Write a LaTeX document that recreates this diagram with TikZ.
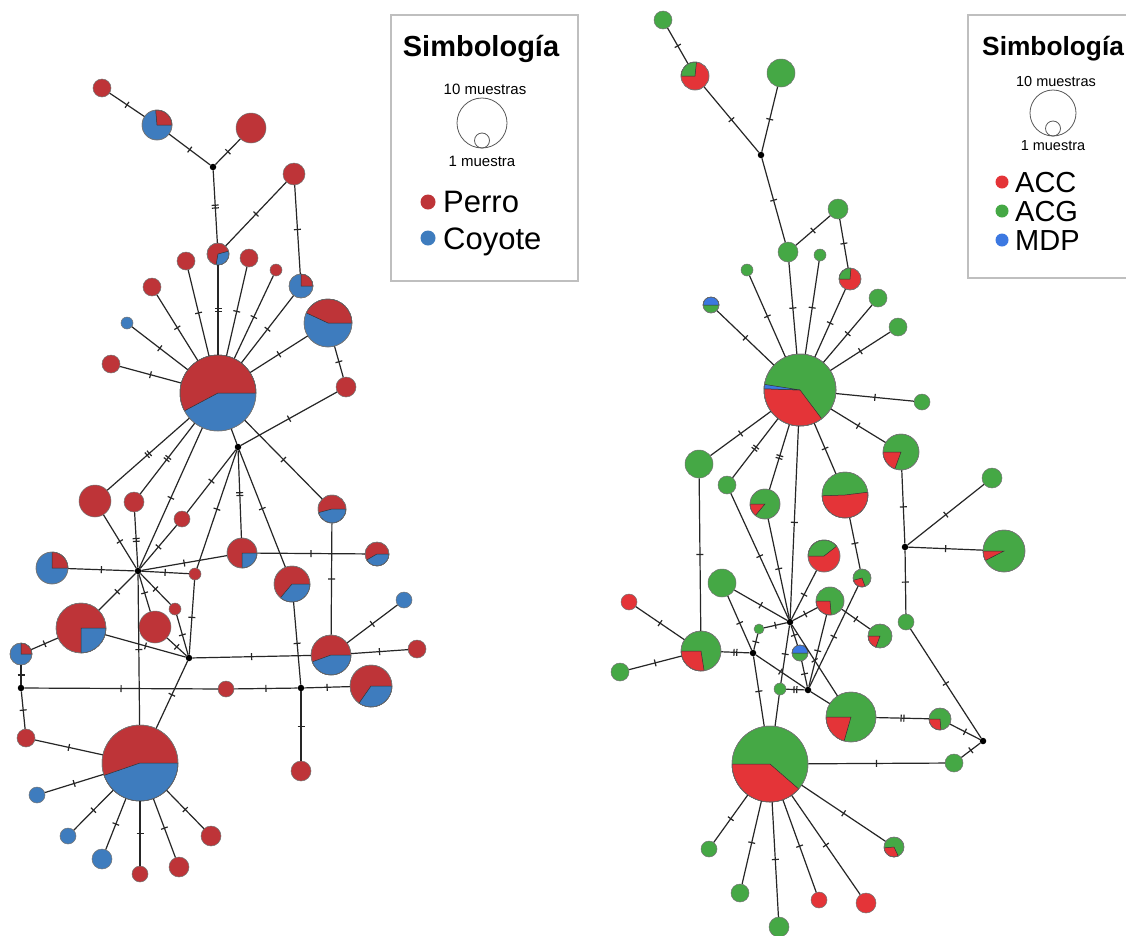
\documentclass[tikz,border=0pt]{standalone}
\usepackage{fontspec}
\setmainfont{Liberation Sans}
\definecolor{pr}{RGB}{190,52,56}
\definecolor{cb}{RGB}{62,124,190}
\definecolor{rr}{RGB}{228,52,56}
\definecolor{gg}{RGB}{69,168,69}
\definecolor{bb}{RGB}{60,120,225}
\newcommand\tk{\rule{1.2pt}{7pt}}
\newcommand\tkk{\rule{1.2pt}{7pt}\kern1.6pt\rule{1.2pt}{7pt}}
\newcommand\hap[5]{\node[hapn, fill=#5, minimum size={2*#4pt}] (#1) at (#2,#3) {};}
\newcommand\jn[3]{\node[junc] (#1) at (#2,#3) {};}
\newcommand\slice[5]{\filldraw[fill=#5, draw=black!80, line width=0.5pt] (#1.center) -- ++(#3:#2pt) arc[start angle=#3, end angle=#4, radius=#2pt] -- cycle;
  \draw[draw=black!55, line width=0.5pt] (#1.center) circle[radius=#2pt];}
\newcommand\eA[2]{\draw[edge] (#1) -- node[mut]{\tk} (#2);}
\newcommand\eB[2]{\draw[edge] (#1) -- node[mut]{\tkk} (#2);}
\newcommand\eO[2]{\draw[edge] (#1) -- (#2);}
\begin{document}
\begin{tikzpicture}[x=1pt,y=-1pt,
  hapn/.style={circle, draw=black!55, line width=0.5pt, inner sep=0pt},
  junc/.style={circle, fill=black, inner sep=0pt, minimum size=6.5pt},
  edge/.style={draw=black!85, line width=1.2pt},
  mut/.style={sloped, inner sep=0pt, fill=none, text=black!85},
  legbox/.style={draw=black!25, line width=1.5pt},
  legcirc/.style={circle, draw=black!65, line width=0.8pt, inner sep=0pt},
  dot/.style={circle, inner sep=0pt, minimum size=15pt},
  ]
\useasboundingbox (0,0) rectangle (1126,935);
\fill[white] (0,0) rectangle (1126,935);

% ---------------- left legend
\draw[legbox] (391,15) rectangle (578,281);
\node[anchor=base, font=\bfseries\fontsize{29}{31}\selectfont] (lt) at (481,56) {Simbología};
\node[anchor=base, font=\fontsize{15}{17}\selectfont] (l10) at (485,94) {10 muestras};
\node[legcirc, minimum size=50pt] (lbig) at (482,123) {};
\node[legcirc, minimum size=15pt] (lsmall) at (482,140.5) {};
\node[anchor=base, font=\fontsize{15}{17}\selectfont] (l1) at (482,166) {1 muestra};
\node[dot, fill=pr] (dperro) at (428,202) {};
\node[anchor=base west, inner sep=0pt, font=\fontsize{31}{33}\selectfont] (tperro) at (443,212) {Perro};
\node[dot, fill=cb] (dcoy) at (428,238) {};
\node[anchor=base west, inner sep=0pt, font=\fontsize{31}{33}\selectfont] (tcoy) at (443,249) {Coyote};

% ---------------- right legend
\draw[legbox] (968,15) rectangle (1140,278);
\node[anchor=base west, inner sep=0pt, font=\bfseries\fontsize{26.3}{28}\selectfont] (rt) at (982,55) {Simbología};
\node[anchor=base, font=\fontsize{14.5}{16}\selectfont] (r10) at (1056,86) {10 muestras};
\node[legcirc, minimum size=46pt] (rbig) at (1053,113) {};
\node[legcirc, minimum size=15pt] (rsmall) at (1053,128.5) {};
\node[anchor=base, font=\fontsize{14.5}{16}\selectfont] (r1) at (1053,150) {1 muestra};
\node[dot, fill=rr, minimum size=13pt] (dacc) at (1002,182) {};
\node[anchor=base west, inner sep=0pt, font=\fontsize{29}{31}\selectfont] (tacc) at (1015,192) {ACC};
\node[dot, fill=gg, minimum size=13pt] (dacg) at (1002,211) {};
\node[anchor=base west, inner sep=0pt, font=\fontsize{29}{31}\selectfont] (tacg) at (1015,221) {ACG};
\node[dot, fill=bb, minimum size=13pt] (dmdp) at (1002,240) {};
\node[anchor=base west, inner sep=0pt, font=\fontsize{29}{31}\selectfont] (tmdp) at (1015,250) {MDP};

% ---------------- left network nodes
\hap{L1}{102}{88}{9}{pr}
\hap{L2}{157}{125}{15}{cb}
\hap{L3}{251}{128}{15}{pr}
\jn{J1}{213}{167}
\hap{L4}{294}{174}{11}{pr}
\hap{L5}{218}{254}{11}{pr}
\hap{L6}{186}{261}{9}{pr}
\hap{L7}{249}{258}{9}{pr}
\hap{L8}{276}{270}{6}{pr}
\hap{L9}{301}{286}{12}{cb}
\hap{L10}{152}{287}{9}{pr}
\hap{L11}{328}{323}{24}{cb}
\hap{L12}{127}{323}{6}{cb}
\hap{L13}{111}{364}{9}{pr}
\hap{C1}{218}{393}{38}{cb}
\hap{L14}{346}{387}{10}{pr}
\jn{J2}{238}{447}
\hap{L15}{95}{501}{16}{pr}
\hap{L16}{134}{502}{10}{pr}
\hap{L17}{182}{519}{8}{pr}
\hap{L18}{332}{509}{14}{pr}
\jn{J3}{138}{571}
\hap{L19}{52}{568}{16}{cb}
\hap{L20}{242}{553}{15}{pr}
\hap{L21}{377}{554}{12}{pr}
\hap{L22}{195}{574}{6}{pr}
\hap{L23}{292}{584}{18}{pr}
\hap{L24}{404}{600}{8}{cb}
\hap{L25}{81}{628}{25}{pr}
\hap{L26}{155}{627}{16}{pr}
\hap{L27}{175}{609}{6}{pr}
\jn{J4}{189}{658}
\hap{L28}{21}{654}{11}{cb}
\hap{L29}{331}{655}{20}{pr}
\hap{L30}{417}{649}{9}{pr}
\jn{J5}{21}{688}
\hap{L31}{226}{689}{8}{pr}
\jn{J6}{301}{688}
\hap{L32}{371}{686}{21}{pr}
\hap{L33}{26}{738}{9}{pr}
\hap{C2}{140}{763}{38}{pr}
\hap{L34}{301}{771}{10}{pr}
\hap{L35}{37}{795}{8}{cb}
\hap{L36}{68}{836}{8}{cb}
\hap{L37}{102}{859}{10}{cb}
\hap{L38}{140}{874}{8}{pr}
\hap{L39}{179}{867}{10}{pr}
\hap{L40}{211}{836}{10}{pr}

\slice{L2}{15}{0}{95}{pr}
\slice{L5}{11}{-100}{15}{cb}
\slice{L9}{12}{0}{90}{pr}
\slice{L11}{24}{0}{155}{pr}
\slice{C1}{38}{0}{208}{pr}
\slice{L18}{14}{195}{360}{cb}
\slice{L19}{16}{0}{90}{pr}
\slice{L20}{15}{-90}{0}{cb}
\slice{L21}{12}{210}{360}{cb}
\slice{L23}{18}{230}{360}{cb}
\slice{L25}{25}{-90}{0}{cb}
\slice{L28}{11}{0}{90}{pr}
\slice{L29}{20}{200}{360}{cb}
\slice{L32}{21}{235}{360}{cb}
\slice{C2}{38}{199}{360}{cb}

% ---------------- left network edges
\eA{L1}{L2} \eA{L2}{J1} \eA{L3}{J1} \eB{J1}{L5} \eA{L5}{L4} \eA{L4}{L9}
\eB{C1}{L5} \eA{C1}{L6} \eA{C1}{L7} \eA{C1}{L8} \eA{C1}{L9} \eA{C1}{L10}
\eA{C1}{L12} \eA{C1}{L13} \eA{C1}{L11} \eA{L11}{L14} \eA{L14}{J2} \eO{C1}{J2}
\eA{C1}{L18} \eA{C1}{J3} \eB{C1}{L15} \eB{C1}{L16}
\eA{J2}{L17} \eA{L17}{J3} \eA{J2}{L22} \eA{J2}{L23} \eB{J2}{L20}
\eA{J3}{L15} \eB{J3}{L16} \eA{J3}{L19} \eA{J3}{L20} \eA{J3}{L22} \eA{J3}{L25}
\eA{J3}{L26} \eA{J3}{L27} \eA{J3}{C2}
\eA{L22}{J4} \eA{L26}{J4} \eA{L27}{J4} \eA{L25}{J4} \eA{J4}{L29} \eA{J4}{C2}
\eA{L25}{L28} \eA{L28}{J5} \eA{J5}{L31} \eA{L31}{J6} \eA{J6}{L32} \eA{J6}{L23}
\eA{J6}{L34} \eA{J5}{L33} \eA{L33}{C2} \eA{L29}{L24} \eA{L29}{L30}
\eA{L18}{L29} \eA{L20}{L21}
\eA{C2}{L35} \eA{C2}{L36} \eA{C2}{L37} \eA{C2}{L38} \eA{C2}{L39} \eA{C2}{L40}

% ---------------- right network nodes
\hap{R1}{663}{20}{9}{gg}
\hap{R2}{695}{76}{14}{rr}
\hap{R3}{781}{73}{14}{gg}
\jn{J7}{761}{155}
\hap{R4}{788}{252}{10}{gg}
\hap{R5}{838}{209}{10}{gg}
\hap{R6}{747}{270}{6}{gg}
\hap{R7}{820}{255}{6}{gg}
\hap{R8}{850}{279}{11}{rr}
\hap{R9}{711}{305}{8}{gg}
\hap{R10}{878}{298}{9}{gg}
\hap{R11}{898}{327}{9}{gg}
\hap{C3}{800}{390}{36}{gg}
\hap{R12}{922}{402}{8}{gg}
\hap{R13}{699}{464}{14}{gg}
\hap{R14}{727}{485}{9}{gg}
\hap{R15}{765}{504}{15}{gg}
\hap{R16}{845}{495}{23}{gg}
\hap{R17}{901}{452}{18}{gg}
\hap{R18}{992}{478}{10}{gg}
\jn{J8}{905}{547}
\hap{R19}{1004}{551}{21}{gg}
\hap{R20}{824}{556}{16}{rr}
\hap{R21}{722}{583}{14}{gg}
\hap{R22}{862}{578}{9}{gg}
\hap{R23}{629}{602}{8}{rr}
\hap{R24}{830}{601}{14}{gg}
\hap{R25}{906}{622}{8}{gg}
\hap{R26}{880}{636}{12}{gg}
\jn{J9}{790}{622}
\hap{R27}{759}{629}{5}{gg}
\hap{R28}{800}{653}{8}{gg}
\hap{R29}{701}{651}{20}{gg}
\jn{J10}{753}{653}
\hap{R30}{620}{672}{9}{gg}
\hap{R31}{780}{689}{6}{gg}
\jn{J11}{808}{690}
\hap{R32}{851}{717}{25}{gg}
\hap{R33}{940}{719}{11}{gg}
\jn{J12}{983}{741}
\hap{C4}{770}{764}{38}{gg}
\hap{R34}{954}{763}{9}{gg}
\hap{R35}{709}{849}{8}{gg}
\hap{R36}{894}{847}{10}{gg}
\hap{R37}{740}{893}{9}{gg}
\hap{R38}{819}{900}{8}{rr}
\hap{R39}{866}{903}{10}{rr}
\hap{R40}{779}{927}{10}{gg}

\slice{R2}{14}{84}{180}{gg}
\slice{R8}{11}{85}{180}{gg}
\slice{R9}{8}{0}{180}{bb}
\slice{C3}{36}{178}{307}{rr}
\slice{C3}{36}{171}{178}{bb}
\slice{R15}{15}{180}{230}{rr}
\slice{R16}{23}{182}{367}{rr}
\slice{R17}{18}{180}{250}{rr}
\slice{R19}{21}{180}{207}{rr}
\slice{R20}{16}{38}{180}{gg}
\slice{R22}{9}{195}{290}{rr}
\slice{R24}{14}{180}{275}{rr}
\slice{R26}{12}{180}{250}{rr}
\slice{R28}{8}{0}{180}{bb}
\slice{R29}{20}{180}{279}{rr}
\slice{R32}{25}{180}{254}{rr}
\slice{R33}{11}{180}{275}{rr}
\slice{C4}{38}{180}{319}{rr}
\slice{R36}{10}{185}{295}{rr}

% ---------------- right network edges
\eA{R1}{R2} \eA{R2}{J7} \eA{R3}{J7} \eA{J7}{R4} \eA{R4}{R5} \eA{R5}{R8}
\eA{C3}{R4} \eA{C3}{R6} \eA{C3}{R7} \eA{C3}{R8} \eA{C3}{R9} \eA{C3}{R10}
\eA{C3}{R11} \eA{C3}{R12} \eA{C3}{R17} \eA{C3}{R13} \eB{C3}{R14} \eB{C3}{R15}
\eA{C3}{J9} \eA{C3}{R16}
\eA{R17}{J8} \eA{J8}{R18} \eA{J8}{R19} \eA{J8}{R25} \eA{R25}{J12}
\eA{R13}{R29} \eA{R14}{J9} \eA{R15}{J9} \eA{R16}{R22} \eA{R20}{J9} \eA{R21}{J9}
\eA{R21}{J10} \eA{J9}{R24} \eA{J9}{R27} \eA{J10}{R27} \eA{J10}{J11} \eA{J10}{C4}
\eA{J9}{R32} \eA{J9}{R31} \eO{R31}{C4} \eA{J11}{R24} \eA{J11}{R22} \eA{R24}{R26}
\eA{J9}{R28} \eA{R28}{J11} \eO{J11}{R32} \eB{J10}{R29} \eB{J11}{R31}
\eB{R32}{R33} \eA{R33}{J12} \eA{R34}{J12} \eA{C4}{R34}
\eA{R23}{R29} \eA{R30}{R29}
\eA{C4}{R35} \eA{C4}{R36} \eA{C4}{R37} \eA{C4}{R38} \eA{C4}{R39} \eA{C4}{R40}
\end{tikzpicture}
\end{document}
